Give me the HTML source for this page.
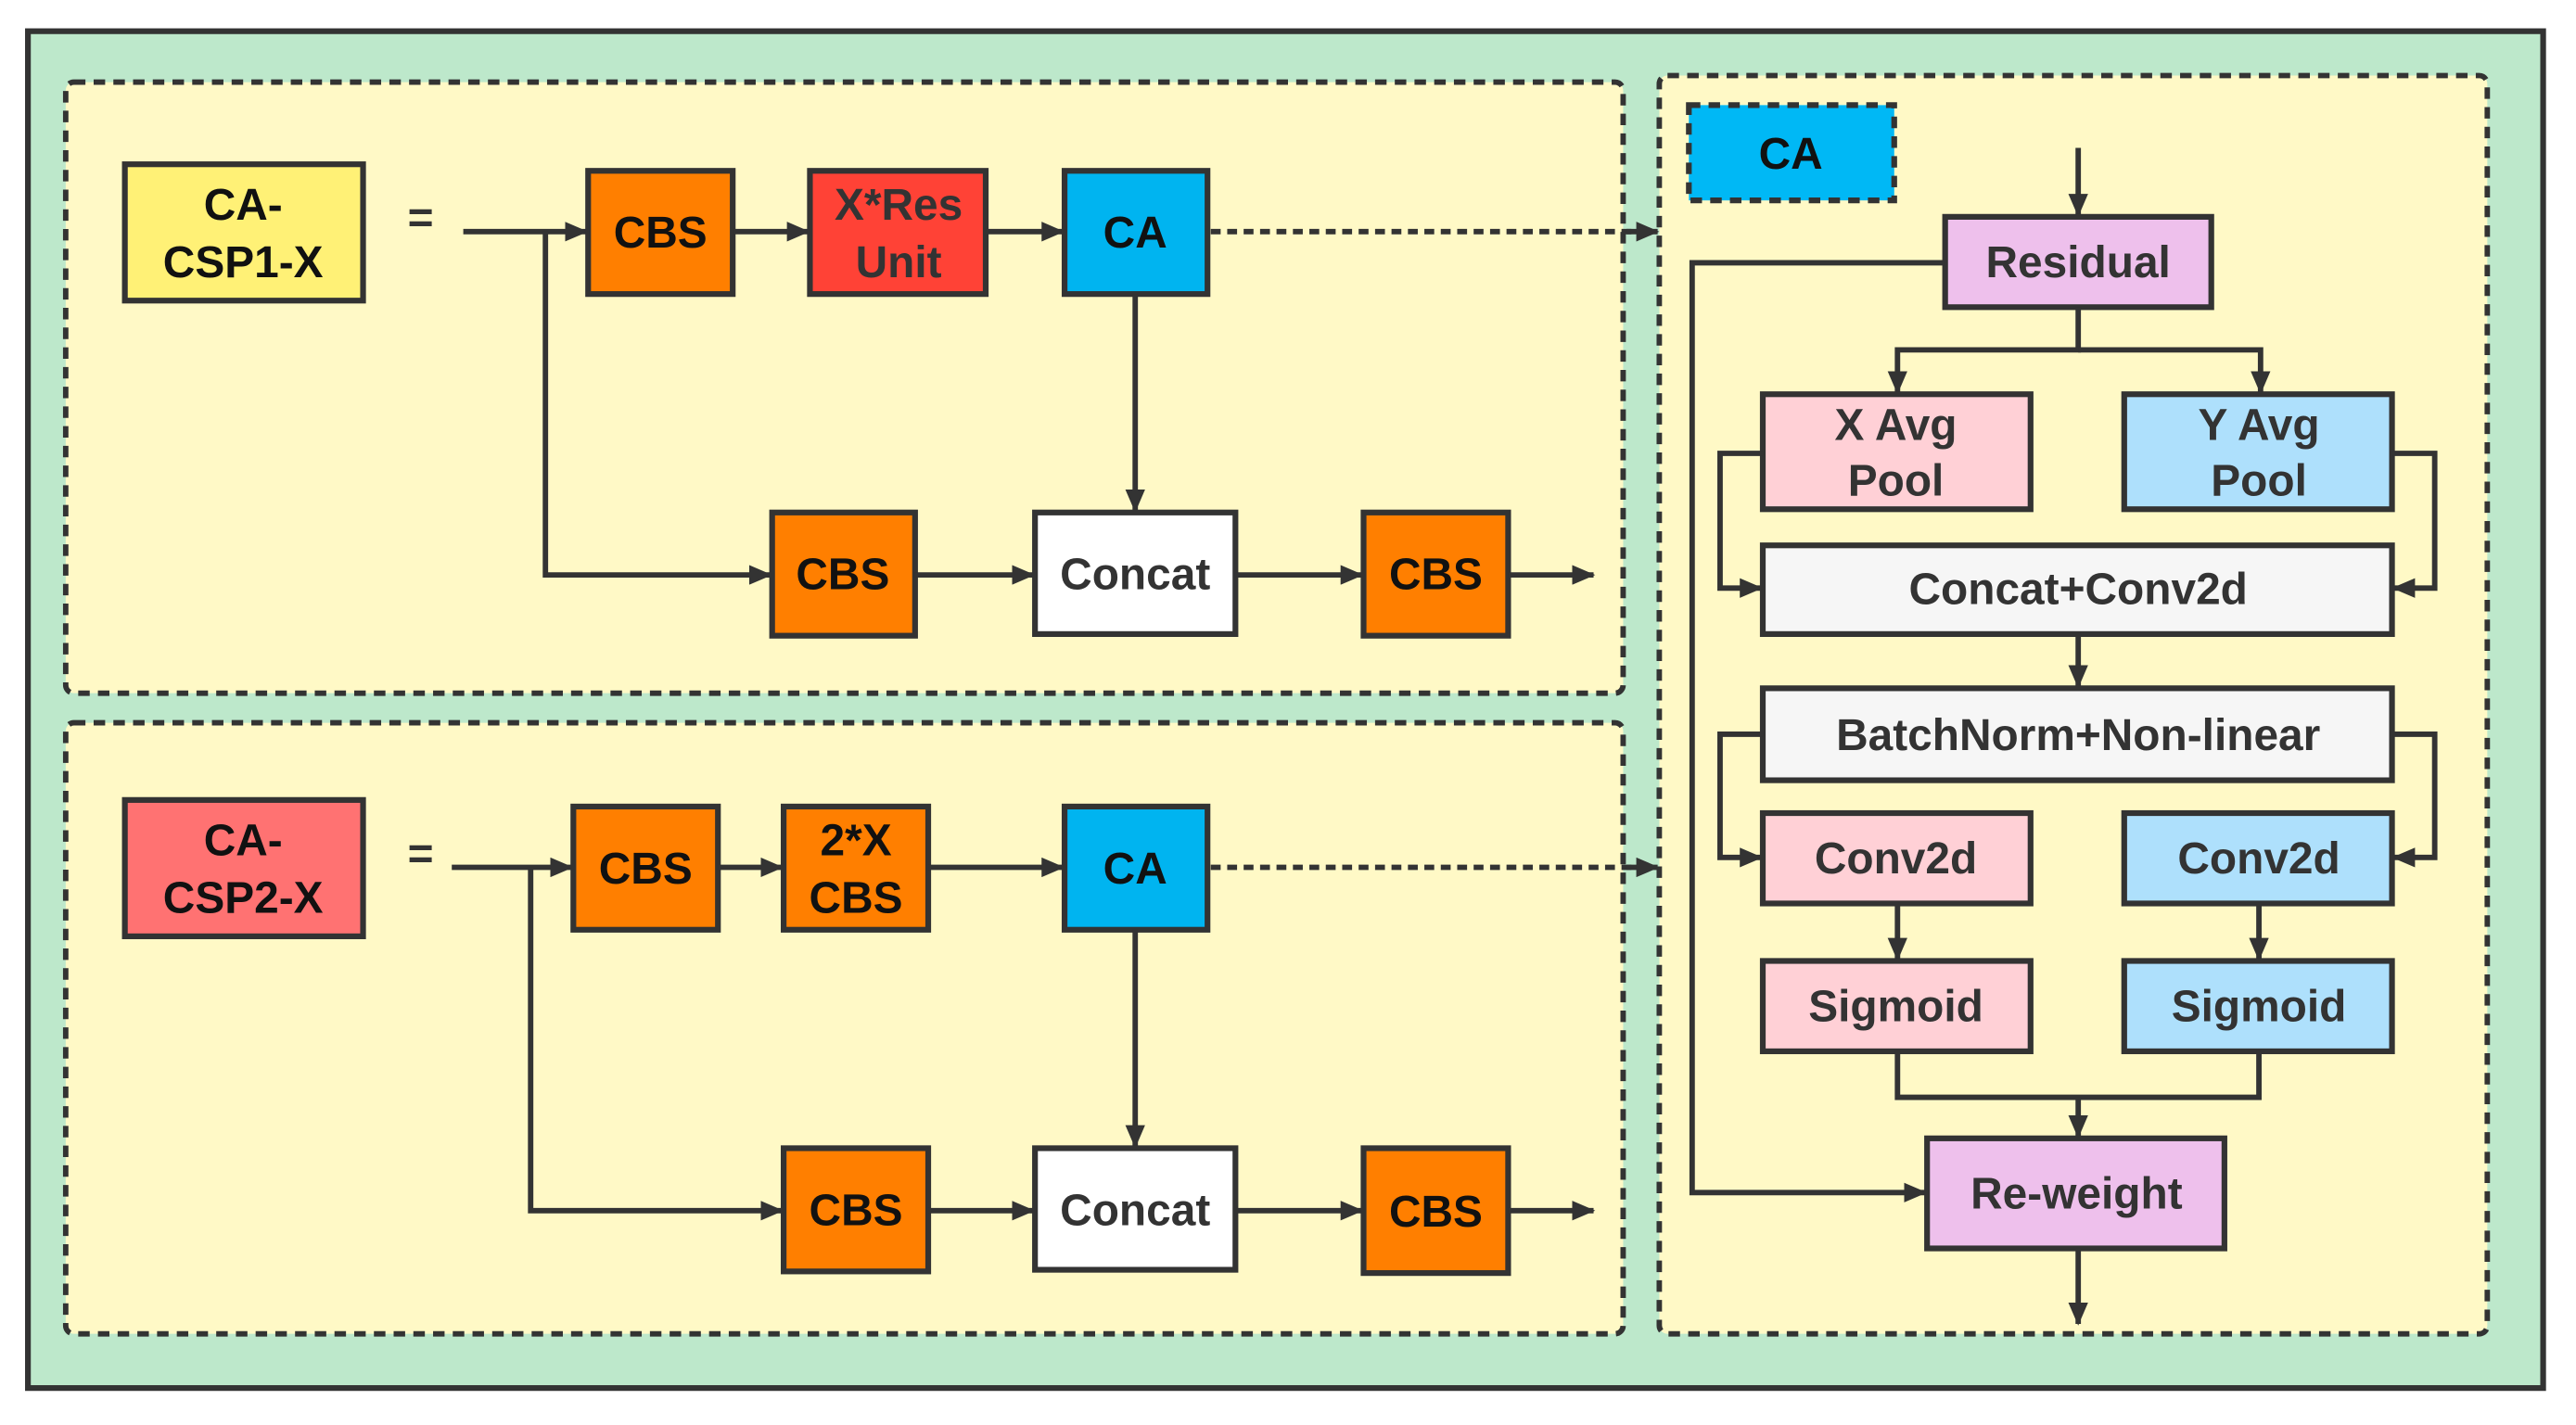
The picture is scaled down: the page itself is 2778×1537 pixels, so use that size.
<!DOCTYPE html>
<html><head><meta charset="utf-8"><style>
html,body{margin:0;padding:0;background:#fff;}
svg{display:block;}
text{font-family:"Liberation Sans",sans-serif;font-weight:bold;font-size:27px;text-anchor:middle;dominant-baseline:central;}
.b{stroke:#333;stroke-width:3.5;}
.l{stroke:#333;stroke-width:3.3;fill:none;}
.d{stroke:#333;stroke-width:3.3;fill:none;stroke-dasharray:7 5;}
.tk{fill:#111;}
.tg{fill:#333;}
</style></head><body>
<svg width="2778" height="1537" viewBox="0 0 1568 867.5" preserveAspectRatio="none">
<defs><marker id="a" viewBox="0 0 14 12" refX="13" refY="6" markerWidth="14" markerHeight="12" orient="auto" markerUnits="userSpaceOnUse"><path d="M0,0 L14,6 L0,12 z" fill="#333"/></marker></defs>
<rect x="17" y="19" width="1531" height="826" fill="#bde8cb" stroke="#333" stroke-width="3.5"/>
<rect x="40" y="50" width="948" height="372" rx="5" class="d" style="fill:#fff9c6"/>
<rect x="40" y="440" width="948" height="372" rx="5" class="d" style="fill:#fff9c6"/>
<rect x="1010" y="46" width="504" height="766" rx="5" class="d" style="fill:#fff9c6"/>

<!-- top section -->
<rect x="76" y="100" width="145" height="83" fill="#fff176" class="b"/>
<text x="148" y="125" class="tk">CA-</text><text x="148" y="160" class="tk">CSP1-X</text>
<text x="256" y="133" class="tg">=</text>
<path d="M282,141 H357" class="l" marker-end="url(#a)"/>
<path d="M332,141 V350 H469" class="l" marker-end="url(#a)"/>
<rect x="358" y="104" width="88" height="75" fill="#ff7f00" class="b"/><text x="402" y="142" class="tk">CBS</text>
<path d="M446,141 H492" class="l" marker-end="url(#a)"/>
<rect x="493" y="104" width="107" height="75" fill="#ff4236" class="b"/><text x="547" y="125" class="tg">X*Res</text><text x="547" y="160" class="tg">Unit</text>
<path d="M600,141 H647" class="l" marker-end="url(#a)"/>
<rect x="648" y="104" width="87" height="75" fill="#00b4f0" class="b"/><text x="691" y="142" class="tk">CA</text>
<path d="M737,141 H995" class="d" style="stroke-dasharray:6 4"/><path d="M990,141 H1009" class="l" marker-end="url(#a)"/>
<path d="M691,179 V311" class="l" marker-end="url(#a)"/>
<rect x="470" y="312" width="87" height="75" fill="#ff7f00" class="b"/><text x="513" y="350" class="tk">CBS</text>
<path d="M557,350 H629" class="l" marker-end="url(#a)"/>
<rect x="630" y="312" width="122" height="74" fill="#fff" class="b"/><text x="691" y="350" class="tg">Concat</text>
<path d="M752,350 H829" class="l" marker-end="url(#a)"/>
<rect x="830" y="312" width="88" height="75" fill="#ff7f00" class="b"/><text x="874" y="350" class="tk">CBS</text>
<path d="M918,350 H970" class="l" marker-end="url(#a)"/>

<!-- bottom section -->
<rect x="76" y="487" width="145" height="83" fill="#ff7272" class="b"/>
<text x="148" y="512" class="tk">CA-</text><text x="148" y="547" class="tk">CSP2-X</text>
<text x="256" y="520" class="tg">=</text>
<path d="M275,528 H348" class="l" marker-end="url(#a)"/>
<path d="M323,528 V737 H476" class="l" marker-end="url(#a)"/>
<rect x="349" y="491" width="88" height="75" fill="#ff7f00" class="b"/><text x="393" y="529" class="tk">CBS</text>
<path d="M437,528 H476" class="l" marker-end="url(#a)"/>
<rect x="477" y="491" width="88" height="75" fill="#ff7f00" class="b"/><text x="521" y="512" class="tk">2*X</text><text x="521" y="547" class="tk">CBS</text>
<path d="M565,528 H647" class="l" marker-end="url(#a)"/>
<rect x="648" y="491" width="87" height="75" fill="#00b4f0" class="b"/><text x="691" y="529" class="tk">CA</text>
<path d="M737,528 H995" class="d" style="stroke-dasharray:6 4"/><path d="M990,528 H1009" class="l" marker-end="url(#a)"/>
<path d="M691,566 V698" class="l" marker-end="url(#a)"/>
<rect x="477" y="699" width="88" height="75" fill="#ff7f00" class="b"/><text x="521" y="737" class="tk">CBS</text>
<path d="M565,737 H629" class="l" marker-end="url(#a)"/>
<rect x="630" y="699" width="122" height="74" fill="#fff" class="b"/><text x="691" y="737" class="tg">Concat</text>
<path d="M752,737 H829" class="l" marker-end="url(#a)"/>
<rect x="830" y="699" width="88" height="76" fill="#ff7f00" class="b"/><text x="874" y="738" class="tk">CBS</text>
<path d="M918,737 H970" class="l" marker-end="url(#a)"/>

<!-- right panel -->
<rect x="1028" y="64" width="125" height="58" class="d" style="fill:#00b8f5;stroke-width:3.5"/>
<text x="1090" y="94" class="tk">CA</text>
<path d="M1265,90 V131" class="l" marker-end="url(#a)"/>
<rect x="1184" y="132" width="162" height="55" fill="#eec0ec" class="b"/><text x="1265" y="160" class="tg">Residual</text>
<path d="M1184,160 H1030 V726 H1172" class="l" marker-end="url(#a)"/>
<path d="M1265,187 V213 H1155 V239" class="l" marker-end="url(#a)"/>
<path d="M1265,213 H1376 V239" class="l" marker-end="url(#a)"/>
<rect x="1073" y="240" width="163" height="70" fill="#ffd0d6" class="b"/><text x="1154" y="259" class="tg">X Avg</text><text x="1154" y="293" class="tg">Pool</text>
<rect x="1293" y="240" width="163" height="70" fill="#aee0fc" class="b"/><text x="1375" y="259" class="tg">Y Avg</text><text x="1375" y="293" class="tg">Pool</text>
<path d="M1073,276 H1047 V358 H1072" class="l" marker-end="url(#a)"/>
<path d="M1456,276 H1482 V358 H1457" class="l" marker-end="url(#a)"/>
<rect x="1073" y="332" width="383" height="54" fill="#f6f6f6" class="b"/><text x="1265" y="359" class="tg">Concat+Conv2d</text>
<path d="M1265,386 V418" class="l" marker-end="url(#a)"/>
<rect x="1073" y="419" width="383" height="56" fill="#f6f6f6" class="b"/><text x="1265" y="448" class="tg">BatchNorm+Non-linear</text>
<path d="M1073,447 H1047 V522 H1072" class="l" marker-end="url(#a)"/>
<path d="M1456,447 H1482 V522 H1457" class="l" marker-end="url(#a)"/>
<rect x="1073" y="495" width="163" height="55" fill="#ffd0d6" class="b"/><text x="1154" y="523" class="tg">Conv2d</text>
<rect x="1293" y="495" width="163" height="55" fill="#aee0fc" class="b"/><text x="1375" y="523" class="tg">Conv2d</text>
<path d="M1155,550 V584" class="l" marker-end="url(#a)"/>
<path d="M1375,550 V584" class="l" marker-end="url(#a)"/>
<rect x="1073" y="585" width="163" height="55" fill="#ffd0d6" class="b"/><text x="1154" y="613" class="tg">Sigmoid</text>
<rect x="1293" y="585" width="163" height="55" fill="#aee0fc" class="b"/><text x="1375" y="613" class="tg">Sigmoid</text>
<path d="M1155,640 V668 H1375 V640" class="l"/>
<path d="M1265,668 V692" class="l" marker-end="url(#a)"/>
<rect x="1173" y="693" width="181" height="67" fill="#eec0ec" class="b"/><text x="1264" y="727" class="tg">Re-weight</text>
<path d="M1265,760 V806" class="l" marker-end="url(#a)"/>
</svg>
</body></html>
